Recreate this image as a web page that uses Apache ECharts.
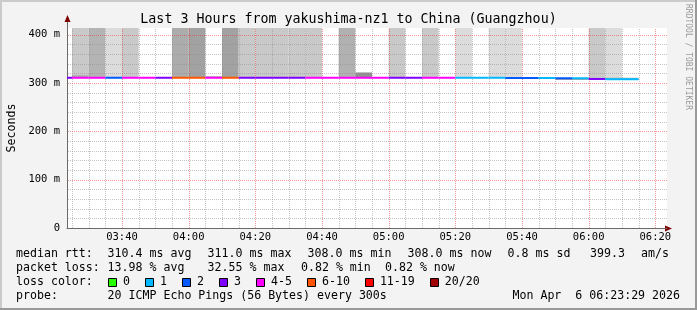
<!DOCTYPE html>
<html><head><meta charset="utf-8">
<script src="https://cdn.jsdelivr.net/npm/echarts@6/dist/echarts.min.js"></script>
<style>
html,body{margin:0;padding:0;background:#f3f3f3;}
#wrap{position:relative;width:697px;height:310px;overflow:hidden;background:#f3f3f3;}
#chart{position:absolute;left:0;top:0;width:697px;height:310px;}
.sh{position:absolute;}
</style></head><body>
<div id="wrap">
<div id="chart"></div>
<div class="sh" style="left:0;top:0;width:697px;height:2px;background:#cbcbcb"></div>
<div class="sh" style="left:0;top:0;width:2px;height:310px;background:#cbcbcb"></div>
<div class="sh" style="left:0;top:308px;width:697px;height:2px;background:#999"></div>
<div class="sh" style="left:695px;top:0;width:2px;height:310px;background:#999"></div>
</div>
<script>
// ---------- data ----------
const titleText = 'Last 3 Hours from yakushima-nz1 to China (Guangzhou)';
const viewStart = '03:23:30';
const viewEnd = '06:23:30';
const stepMin = 5;
const colStart = ['03:20','03:25','03:30','03:35','03:40','03:45','03:50','03:55',
  '04:00','04:05','04:10','04:15','04:20','04:25','04:30','04:35','04:40','04:45','04:50','04:55',
  '05:00','05:05','05:10','05:15','05:20','05:25','05:30','05:35','05:40','05:45','05:50','05:55',
  '06:00','06:05','06:10'];
const medianMs = [311,311,311,311,311,311,311,311,
  311,311,311,311,311,311,311,311,311,311,311,311,
  311,311,311,311,311,311,311,310.5,310.5,310.5,310,310,
  308.5,308,308];
const lostPings = [3,4,5,2,4,4,3,7,
  7,5,6,3,3,3,3,4,4,5,5,4,
  3,3,4,4,1,1,1,2,2,1,2,1,
  3,1,1];
const smokeLoMs = [null,311,311,311,311,null,null,311,
  311,null,311,311,311,311,311,311,null,311,311,null,
  311,null,311,null,311,null,311,310.5,null,null,null,null,
  308.5,308,null];
const smokeHiMs = [null,600,600,600,600,null,null,600,
  600,null,600,600,600,600,600,600,null,600,322,null,
  600,null,600,null,600,null,600,600,null,null,null,null,
  600,600,null];
const smokeShade = [null,201,180,220,201,null,null,172,
  162,null,162,201,201,201,201,201,null,177,145,null,
  201,null,201,null,220,null,220,220,null,null,null,null,
  201,220,null];
// thin secondary smoke bands
const fineLoMs = [null,312,null,null,null,null,null,null,
  null,312,null,null,null,null,null,null,null,null,null,null,
  null,null,null,null,null,null,null,null,null,null,306.5,306.5,
  null,309,309];
const fineHiMs = [null,316,null,null,null,null,null,null,
  null,314.5,null,null,null,null,null,null,null,null,null,null,
  null,null,null,null,null,null,null,null,null,null,308.5,308.5,
  null,311,311];
const fineShade = [null,168,null,null,null,null,null,null,
  null,180,null,null,null,null,null,null,null,null,null,null,
  null,null,null,null,null,null,null,null,null,null,160,160,
  null,160,160];
const yMaxMs = 414;
const yTickMs = [0,100,200,300,400];
const yTickLabels = ['0','100 m','200 m','300 m','400 m'];
const xTickTimes = ['03:40','04:00','04:20','04:40','05:00','05:20','05:40','06:00','06:20'];
const lossBuckets = [[0,0],[1,1],[2,2],[3,3],[4,5],[6,10],[11,19],[20,20]];
const lossLabels = ['0','1','2','3','4-5','6-10','11-19','20/20'];
const lossColors = ['#26ff00','#00b8ff','#0059ff','#7e00ff','#ff00ff','#ff5500','#ff0000','#a10000'];
const statsRows = [
  {y:254, items:[[16,'median rtt:'],[107.6,'310.4 ms avg'],[207.6,'311.0 ms max'],[307.6,'308.0 ms min'],[407.6,'308.0 ms now'],[507.6,'0.8 ms sd'],[590,'399.3'],[641,'am/s']]},
  {y:268.3, items:[[16,'packet loss:'],[107.6,'13.98 % avg'],[207.6,'32.55 % max'],[301,'0.82 % min'],[385,'0.82 % now']]},
  {y:282.3, items:[[16,'loss color:']]},
  {y:296.3, items:[[16,'probe:'],[107.6,'20 ICMP Echo Pings (56 Bytes) every 300s']]}
];
const stampText = 'Mon Apr  6 06:23:29 2026';
const watermark = 'RRDTOOL / TOBI OETIKER';

// ---------- helpers ----------
const FONT = "'DejaVu Sans Mono', monospace";
const toMin = s => { const p = s.split(':').map(Number); return (p[0]-3)*60 + p[1] + (p[2]||0)/60; };
const X0 = toMin(viewStart), X1 = toMin(viewEnd);
const xTickMins = xTickTimes.map(toMin);
const lossColor = n => { for (let i=0;i<lossBuckets.length;i++) if (n>=lossBuckets[i][0] && n<=lossBuckets[i][1]) return lossColors[i]; return '#000'; };
const gray = g => 'rgb('+g+','+g+','+g+')';

const colData = colStart.map((t,i) => [toMin(t), toMin(t)+stepMin, medianMs[i], lostPings[i], smokeLoMs[i], smokeHiMs[i], smokeShade[i], fineLoMs[i], fineHiMs[i], fineShade[i]]);

function rectFor(api, t0, t1, lo, hi) {
  const a = api.coord([t0, hi]), b = api.coord([t1, lo]);
  return {x:a[0], y:a[1], width:b[0]-a[0], height:b[1]-a[1]};
}

// grid line positions (minutes / ms)
const vMinor = [], vMajor = [], hMinor = [], hMajor = [];
for (let m = 25; m < X1; m += 5) if (m > X0) (m % 20 === 0 ? vMajor : vMinor).push(m);
for (let v = 20; v < yMaxMs; v += 20) (v % 100 === 0 ? hMajor : hMinor).push(v);

// dotted grid drawn as 1px filled dots
function gridRender(vs, hs, color) {
  return function (p, api) {
    const children = [];
    const c0 = api.coord([X0, 0]), c1 = api.coord([X1, yMaxMs]);
    const left = Math.round(c0[0]), right = Math.round(c1[0]);
    const top = Math.round(c1[1]), bottom = Math.round(c0[1]);
    const st = {fill:color};
    vs.forEach(m => {
      const x = Math.round(api.coord([m, 0])[0]);
      for (let y = bottom - 1; y >= top; y -= 2) children.push({type:'rect', shape:{x:x, y:y, width:1, height:1}, style:st});
    });
    hs.forEach(v => {
      const y = Math.round(api.coord([X0, v])[1]);
      for (let x = left + 1; x < right; x += 2) children.push({type:'rect', shape:{x:x, y:y, width:1, height:1}, style:st});
    });
    return {type:'group', children};
  };
}

const W = 697;
const graphics = [];
graphics.push({type:'text', x:348.5, y:20, style:{text:titleText, font:'13.3px '+FONT, fill:'#000', textAlign:'center', textVerticalAlign:'middle'}});
graphics.push({type:'text', x:692, y:4, rotation:-Math.PI/2, style:{text:watermark, font:'8px '+FONT, fill:'#9a9a9a', textAlign:'left', textVerticalAlign:'top'}});
statsRows.forEach(r => r.items.forEach(it => graphics.push({type:'text', x:it[0], y:r.y, style:{text:it[1], font:'11.6px '+FONT, fill:'#000', textVerticalAlign:'middle'}})));
graphics.push({type:'text', x:680, y:296.3, style:{text:stampText, font:'11.6px '+FONT, fill:'#000', textAlign:'right', textVerticalAlign:'middle'}});
let cur = 108.4;
lossLabels.forEach((lab,i) => {
  graphics.push({type:'rect', shape:{x:Math.round(cur)+0.5, y:278.5, width:8, height:8}, style:{fill:lossColors[i], stroke:'#000', lineWidth:1}});
  const lx = cur + 14.7;
  graphics.push({type:'text', x:lx, y:282.3, style:{text:lab, font:'11.6px '+FONT, fill:'#000', textVerticalAlign:'middle'}});
  cur = lx + lab.length*6.98 + 15.3;
});
// axis extensions and arrows
graphics.push({type:'rect', shape:{x:67, y:19, width:1, height:9}, style:{fill:'#6b6b6b'}});
graphics.push({type:'polygon', shape:{points:[[64.5,22],[70.5,22],[67.5,15]]}, style:{fill:'#7f0000'}});
graphics.push({type:'rect', shape:{x:667, y:228, width:1, height:1}, style:{fill:'#6b6b6b'}});
graphics.push({type:'polygon', shape:{points:[[665,225.5],[665,231.5],[672,228.5]]}, style:{fill:'#7f0000'}});

const option = {
  animation:false,
  backgroundColor:'#f3f3f3',
  grid:{left:67, top:28, right:W-667, bottom:82, show:true, backgroundColor:'#ffffff', borderWidth:0, containLabel:false, outerBoundsMode:'none'},
  xAxis:{type:'value', min:X0, max:X1,
    axisLine:{show:true, onZero:false, lineStyle:{color:'#6b6b6b', width:1}},
    axisTick:{show:false},
    splitLine:{show:false},
    axisLabel:{customValues:xTickMins, formatter:v => { const i = xTickMins.findIndex(m => Math.abs(m - v) < 1e-6); return i >= 0 ? xTickTimes[i] : ''; },
      margin:4, fontFamily:FONT, fontSize:10.5, color:'#000', hideOverlap:false}
  },
  yAxis:{type:'value', min:0, max:yMaxMs, interval:100,
    name:'Seconds', nameLocation:'middle', nameGap:49, nameRotate:90,
    nameTextStyle:{fontFamily:FONT, fontSize:11.6, color:'#000'},
    axisLine:{show:true, lineStyle:{color:'#6b6b6b', width:1}},
    axisTick:{show:false}, splitLine:{show:false},
    axisLabel:{margin:7, fontFamily:FONT, fontSize:10.5, color:'#000', showMaxLabel:false,
      formatter:v => { const i = yTickMs.indexOf(v); return i >= 0 ? yTickLabels[i] : ''; }}
  },
  graphic:graphics,
  series:[
    {type:'custom', name:'smoke', clip:true, z:1, data:colData,
      renderItem:(p, api) => {
        const d = colData[p.dataIndex];
        const children = [];
        if (d[4] != null) children.push({type:'rect', shape:rectFor(api, d[0], d[1], d[4], d[5]), style:{fill:gray(d[6])}});
        if (d[7] != null) children.push({type:'rect', shape:rectFor(api, d[0], d[1], d[7], d[8]), style:{fill:gray(d[9])}});
        return {type:'group', children};
      }},
    {type:'custom', name:'minorGrid', clip:true, z:2, silent:true, data:[[X0, 0]], renderItem:gridRender(vMinor, hMinor, 'rgba(140,140,140,0.5)')},
    {type:'custom', name:'majorGrid', clip:true, z:3, silent:true, data:[[X0, 0]], renderItem:gridRender(vMajor, hMajor, 'rgba(225,50,50,0.5)')},
    {type:'custom', name:'median', clip:true, z:4, data:colData,
      renderItem:(p, api) => {
        const d = colData[p.dataIndex];
        const a = api.coord([d[0], d[2]]), b = api.coord([d[1], d[2]]);
        return {type:'rect', shape:{x:a[0], y:a[1]-1, width:b[0]-a[0], height:2}, style:{fill:lossColor(d[3])}};
      }}
  ]
};
const chart = echarts.init(document.getElementById('chart'));
chart.setOption(option);
</script>
</body></html>
